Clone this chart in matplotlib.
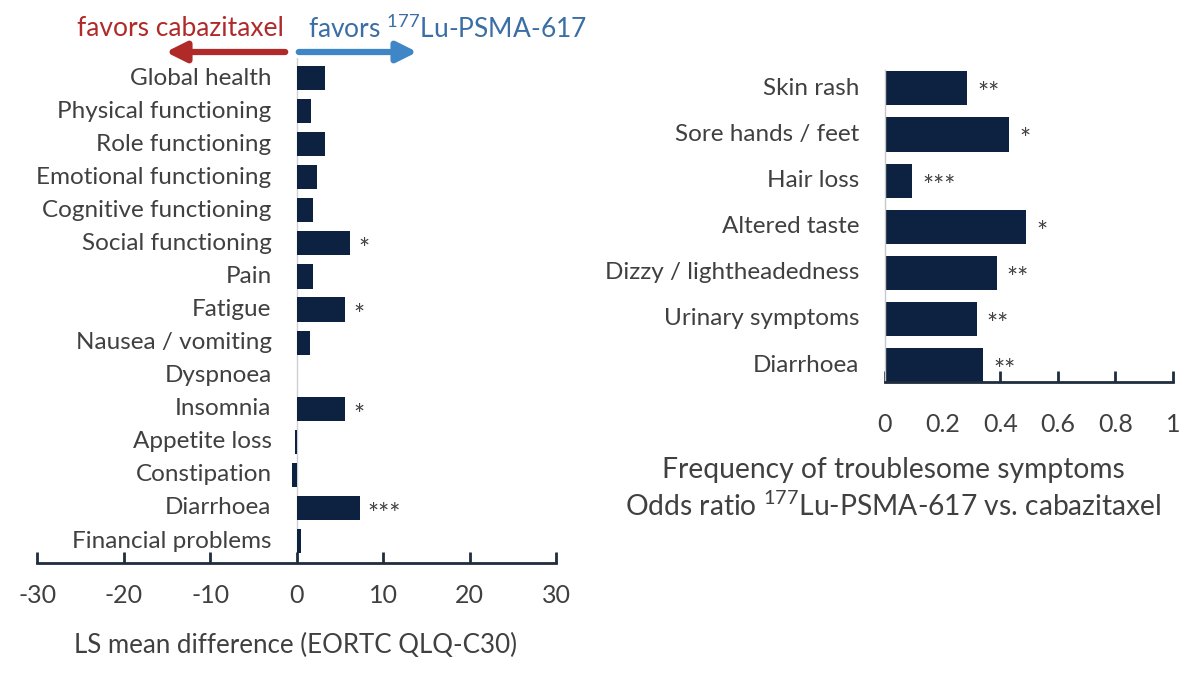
import matplotlib.pyplot as plt
import numpy as np

plt.rcParams['font.family'] = ['Lato', 'DejaVu Sans']
plt.rcParams['mathtext.default'] = 'regular'

# left panel: EORTC QLQ-C30 LS mean difference
qlq_items = ['Global health', 'Physical functioning', 'Role functioning',
             'Emotional functioning', 'Cognitive functioning', 'Social functioning',
             'Pain', 'Fatigue', 'Nausea / vomiting', 'Dyspnoea', 'Insomnia',
             'Appetite loss', 'Constipation', 'Diarrhoea', 'Financial problems']
qlq_diff = [3.3, 1.7, 3.3, 2.4, 1.9, 6.2, 1.9, 5.6, 1.5, 0.0, 5.6, -0.2, -0.5, 7.3, 0.5]
qlq_sig = ['', '', '', '', '', '*', '', '*', '', '', '*', '', '', '***', '']
qlq_ticks = [-30, -20, -10, 0, 10, 20, 30]

# right panel: odds ratio of troublesome symptoms
sym_items = ['Skin rash', 'Sore hands / feet', 'Hair loss', 'Altered taste',
             'Dizzy / lightheadedness', 'Urinary symptoms', 'Diarrhoea']
sym_or = [0.286, 0.43, 0.095, 0.489, 0.388, 0.318, 0.34]
sym_sig = ['**', '*', '***', '*', '**', '**', '**']
sym_ticks = [0, 0.2, 0.4, 0.6, 0.8, 1]

navy = '#0d2240'
txt = '#404040'
axc = '#1f2d3d'

fig = plt.figure(figsize=(12, 6.86), dpi=100)

# ---- left
ax1 = fig.add_axes([0.031, 0.179, 0.4325, 0.7362])
y1 = np.arange(len(qlq_items))
ax1.axvline(0, color='#d0d0d0', lw=1, zorder=0)
ax1.barh(y1, qlq_diff, height=0.73, color=navy, zorder=2)
ax1.set_xlim(-30, 30)
ax1.set_ylim(14.67, -0.6)
for i, (lab, v, s) in enumerate(zip(qlq_items, qlq_diff, qlq_sig)):
    ax1.text(-2.9, i, lab, ha='right', va='center', fontsize=17.5, color=txt)
    if s:
        # asterisks sit high in the glyph box, nudge them down
        ax1.text(max(v, 0) + 0.9, i + 0.22, s, ha='left', va='center', fontsize=19, color=txt)
ax1.set_xticks(qlq_ticks)
ax1.set_xticklabels([str(t) for t in qlq_ticks])
ax1.set_yticks([])
for sp in ['left', 'right', 'top']:
    ax1.spines[sp].set_visible(False)
ax1.spines['bottom'].set_color(axc)
ax1.spines['bottom'].set_linewidth(2)
ax1.tick_params(axis='x', direction='in', length=8, width=2, color=axc,
                labelsize=18, labelcolor=txt, pad=15)
fig.text(0.246, 1 - 645 / 686, 'LS mean difference (EORTC QLQ-C30)',
         ha='center', va='center', fontsize=18.6, color=txt)

# arrows on top
fig.text(284 / 1200, 1 - 29 / 686, 'favors cabazitaxel', ha='right', va='center',
         fontsize=19, color='#b02a2a')
fig.text(308 / 1200, 1 - 29 / 686, 'favors $^{177}$Lu-PSMA-617', ha='left', va='center',
         fontsize=19, color='#3a6ea5')
fig.add_artist(plt.matplotlib.patches.FancyArrowPatch(
    (288 / 1200, 1 - 52 / 686), (163 / 1200, 1 - 52 / 686), transform=fig.transFigure,
    arrowstyle='-|>,head_width=6,head_length=12', lw=4.5, color='#b02a2a'))
fig.add_artist(plt.matplotlib.patches.FancyArrowPatch(
    (296 / 1200, 1 - 52 / 686), (420 / 1200, 1 - 52 / 686), transform=fig.transFigure,
    arrowstyle='-|>,head_width=6,head_length=12', lw=4.5, color='#3f86c6'))

# ---- right
ax2 = fig.add_axes([0.7375, 0.443, 0.24, 0.455])
y2 = np.arange(len(sym_items))
ax2.barh(y2, sym_or, height=0.74, color=navy, zorder=2)
ax2.set_xlim(0, 1)
ax2.set_ylim(6.37, -0.4)
for i, (lab, v, s) in enumerate(zip(sym_items, sym_or, sym_sig)):
    ax2.text(-0.09, i, lab, ha='right', va='center', fontsize=17.5, color=txt)
    ax2.text(v + 0.035, i + 0.14, s, ha='left', va='center', fontsize=19, color=txt)
ax2.set_xticks(sym_ticks)
ax2.set_xticklabels(['0', '0.2', '0.4', '0.6', '0.8', '1'])
ax2.set_yticks([])
for sp in ['right', 'top']:
    ax2.spines[sp].set_visible(False)
ax2.spines['left'].set_color('#c8c8c8')
ax2.spines['left'].set_linewidth(1)
ax2.spines['bottom'].set_color(axc)
ax2.spines['bottom'].set_linewidth(2)
ax2.tick_params(axis='x', direction='in', length=8, width=2, color=axc,
                labelsize=18, labelcolor=txt, pad=22)
fig.text(893 / 1200, 1 - 470 / 686, 'Frequency of troublesome symptoms',
         ha='center', va='center', fontsize=20.3, color=txt)
fig.text(893 / 1200, 1 - 506 / 686, 'Odds ratio $^{177}$Lu-PSMA-617 vs. cabazitaxel',
         ha='center', va='center', fontsize=20.3, color=txt)

fig.savefig('out.png', dpi=100)
